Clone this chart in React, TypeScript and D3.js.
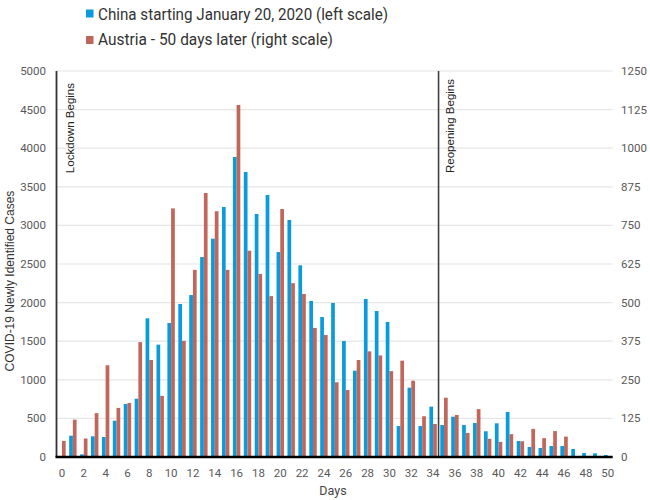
import React from "react";
import * as d3 from "d3";

const days: number[] = d3.range(0, 51);
const chinaCases: number[] = [0, 276, 35, 268, 259, 470, 686, 755, 1796, 1455, 1736, 1982, 2098, 2590, 2828, 3238, 3886, 3692, 3148, 3394, 2655, 3070, 2483, 2021, 1813, 1995, 1502, 1118, 2047, 1891, 1749, 401, 898, 401, 652, 414, 522, 414, 440, 333, 436, 583, 207, 130, 117, 142, 142, 104, 52, 48, 26];
const austriaCases: number[] = [52, 121, 60, 142, 297, 159, 175, 372, 314, 198, 805, 376, 606, 855, 796, 606, 1140, 668, 593, 521, 803, 563, 528, 418, 395, 242, 217, 314, 342, 329, 278, 312, 247, 132, 107, 192, 136, 78, 155, 59, 49, 74, 51, 91, 61, 84, 66, 0, 0, 0, 0];
const leftTicks: number[] = d3.range(0, 5001, 500);
const rightTicks: number[] = d3.range(0, 1251, 125);
const xTickDays: number[] = d3.range(0, 51, 2);
const seriesNames = ["China starting January 20, 2020 (left scale)", "Austria - 50 days later (right scale)"];
const seriesColors = ["#0a9bdc", "#c1665a"];
const lockdownDay = -0.5;
const reopeningDay = 34.5;

export default function App() {
  const W = 650, H = 500;
  const plotLeft = 56.5, plotRight = 613.2, plotTop = 71, plotBottom = 457;
  const x = d3.scaleBand<number>().domain(days).range([plotLeft, plotRight]).paddingInner(0.32).paddingOuter(0.16);
  const xs = d3.scaleBand<string>().domain(["china", "austria"]).range([0, x.bandwidth()]);
  const step = x.step();
  const center = (d: number) => (x(d) as number) + x.bandwidth() / 2;
  const dayPos = (d: number) => plotLeft + step * (d + 0.5);
  const yL = d3.scaleLinear().domain([0, 5000]).range([plotBottom, plotTop]);
  const yR = d3.scaleLinear().domain([0, 1250]).range([plotBottom, plotTop]);
  const tickFont = "Roboto, 'Liberation Sans', sans-serif";
  const tickColor = "#595959";
  const lockX = dayPos(lockdownDay);
  const reopenX = dayPos(reopeningDay);

  return (
    <svg width={W} height={H} style={{ position: "absolute", left: 0, top: 0, background: "#fff" }}>
      {/* gridlines */}
      {leftTicks.filter((t) => t > 0).map((t) => (
        <line key={"g" + t} x1={plotLeft} x2={612.7} y1={yL(t)} y2={yL(t)} stroke="#e6e6e6" strokeWidth={1.2} />
      ))}
      {/* bars */}
      {days.map((d, i) => (
        <g key={"b" + d}>
          {chinaCases[i] > 0 && (
            <rect x={(x(d) as number) + (xs("china") as number)} y={yL(chinaCases[i])} width={xs.bandwidth()} height={plotBottom - yL(chinaCases[i])} fill={seriesColors[0]} />
          )}
          {austriaCases[i] > 0 && (
            <rect x={(x(d) as number) + (xs("austria") as number)} y={yR(austriaCases[i])} width={xs.bandwidth()} height={plotBottom - yR(austriaCases[i])} fill={seriesColors[1]} />
          )}
        </g>
      ))}
      {/* left axis / lockdown line */}
      <line x1={lockX} x2={lockX} y1={plotTop} y2={plotBottom} stroke="#333" strokeWidth={1.8} />
      {/* reopening line */}
      <line x1={reopenX} x2={reopenX} y1={plotTop} y2={plotBottom} stroke="#404040" strokeWidth={1.6} />
      {/* x axis line */}
      <line x1={lockX - 1} x2={612.7} y1={plotBottom} y2={plotBottom} stroke="#000" strokeWidth={2.4} />
      {/* left ticks */}
      {leftTicks.map((t) => (
        <text key={"l" + t} x={46} y={yL(t)} dy="0.35em" textAnchor="end" fontFamily={tickFont} fontSize={11.5} fill={tickColor}>{t}</text>
      ))}
      {/* right ticks */}
      {rightTicks.map((t) => (
        <text key={"r" + t} x={621} y={yR(t)} dy="0.35em" textAnchor="start" fontFamily={tickFont} fontSize={11.5} fill={tickColor}>{t}</text>
      ))}
      {/* x ticks */}
      {xTickDays.map((d) => (
        <text key={"x" + d} x={center(d)} y={477} textAnchor="middle" fontFamily={tickFont} fontSize={11.5} fill={tickColor}>{d}</text>
      ))}
      <text x={333} y={495} textAnchor="middle" fontFamily={tickFont} fontSize={12.5} fill="#444">Days</text>
      <text transform={`translate(13.5,281) rotate(-90)`} textAnchor="middle" fontFamily="'Liberation Sans', Arial, sans-serif" fontSize={12} fill="#333">COVID-19 Newly Identified Cases</text>
      {/* annotations */}
      <text transform={`translate(${lockX + 17.5},83) rotate(-90)`} textAnchor="end" fontFamily="'Liberation Sans', Arial, sans-serif" fontSize={11.5} fill="#222">Lockdown Begins</text>
      <text transform={`translate(${reopenX + 15.5},79) rotate(-90)`} textAnchor="end" fontFamily="'Liberation Sans', Arial, sans-serif" fontSize={11.5} fill="#222">Reopening Begins</text>
      {/* legend */}
      {seriesNames.map((name, i) => (
        <g key={"lg" + i}>
          <rect x={86} y={9.5 + i * 26.5} width={7.5} height={8} fill={seriesColors[i]} />
          <text x={98} y={19.5 + i * 25.8} fontFamily={tickFont} fontSize={17} fill="#333" textLength={i === 0 ? 290 : 235} lengthAdjust="spacingAndGlyphs">{name}</text>
        </g>
      ))}
    </svg>
  );
}
